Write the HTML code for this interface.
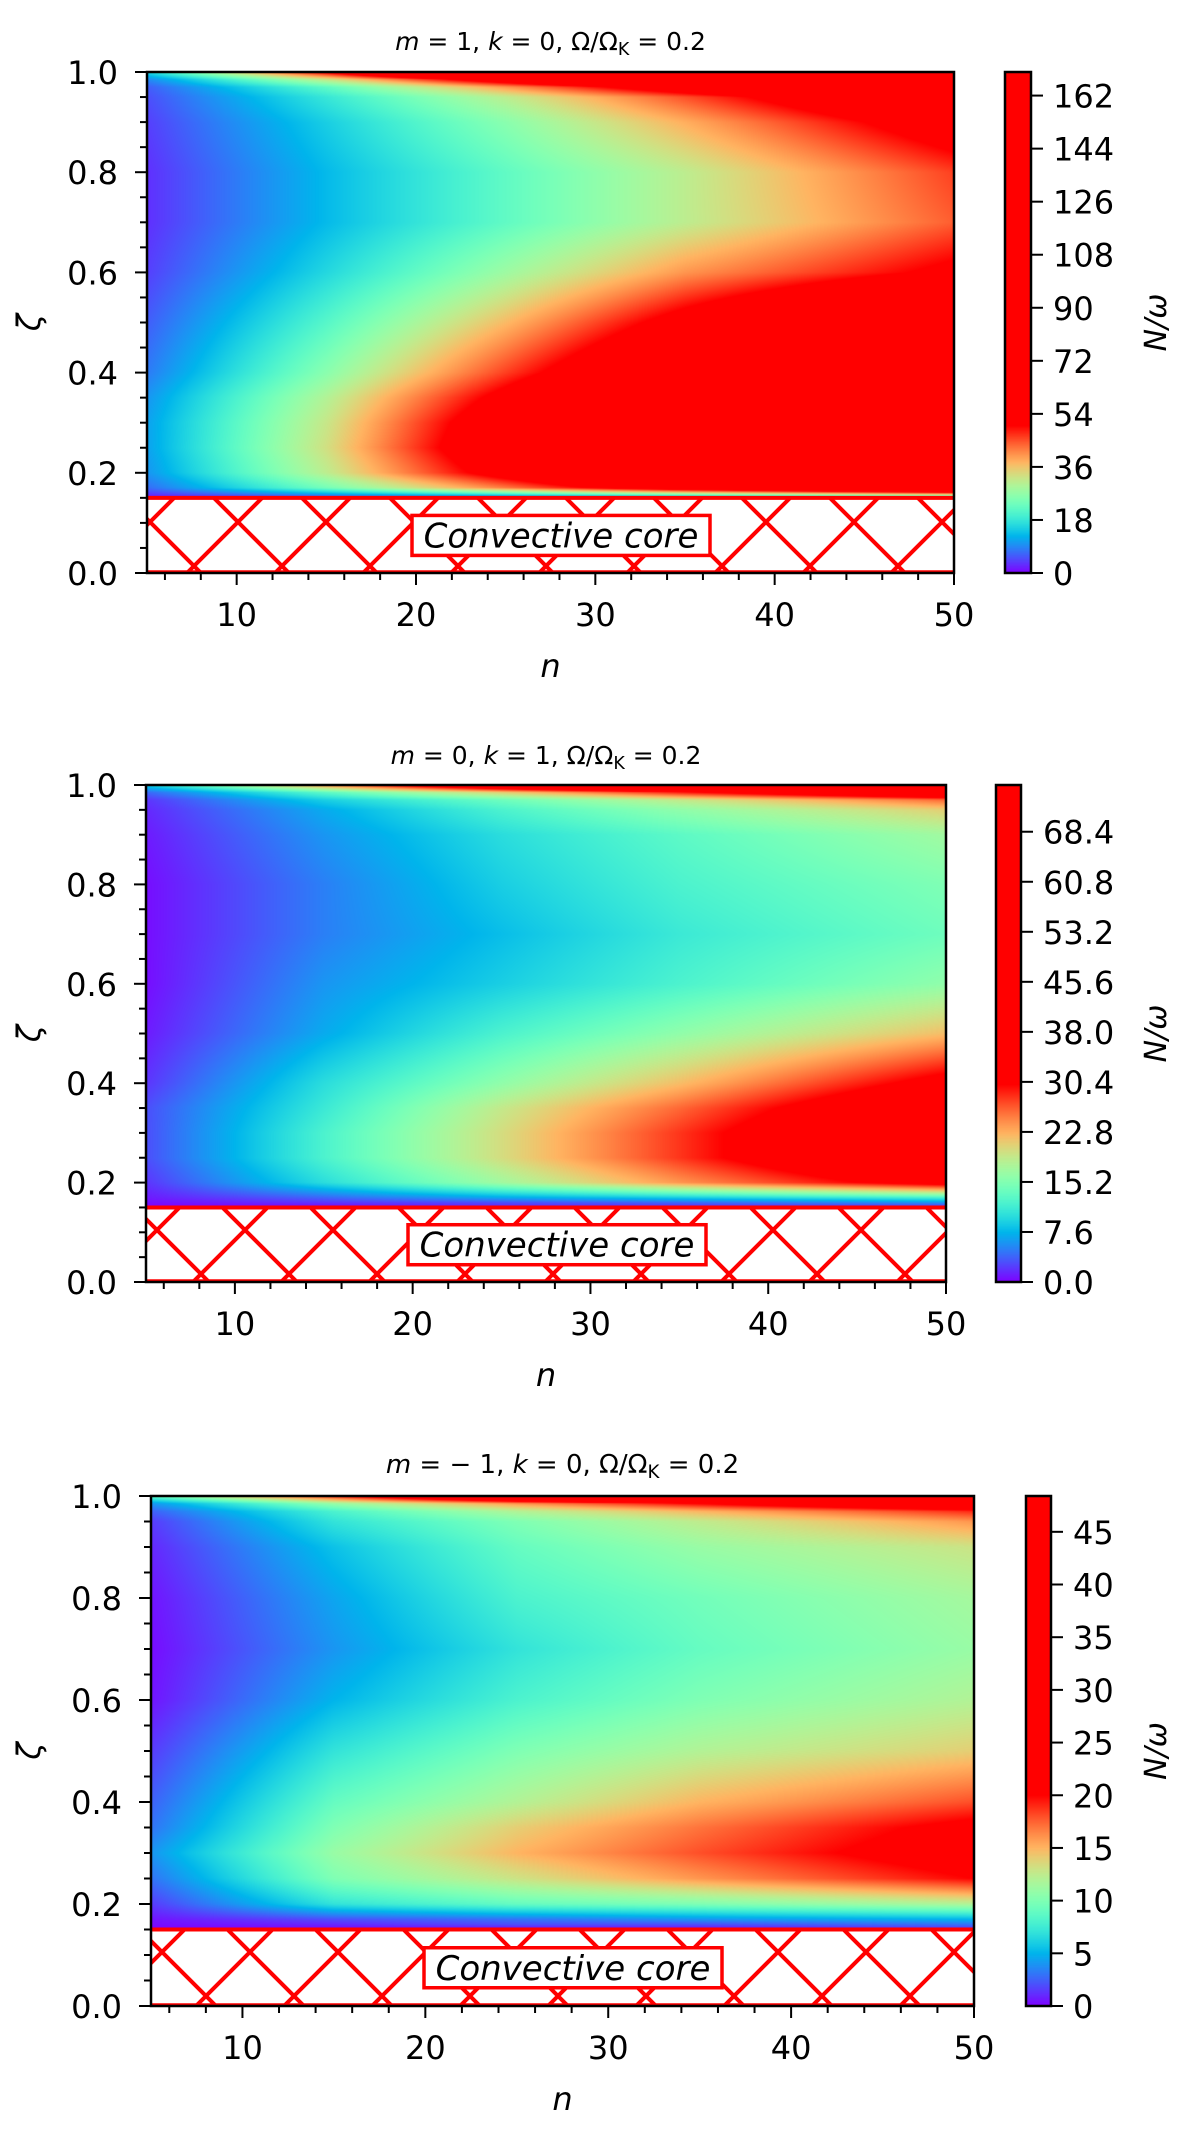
<!DOCTYPE html>
<html><head><meta charset="utf-8">
<style>
html,body{margin:0;padding:0;background:#fff;}
#wrap{position:relative;width:1200px;height:2129px;overflow:hidden;font-family:"DejaVu Sans","Liberation Sans",sans-serif;}
canvas{position:absolute;}
svg{position:absolute;left:0;top:0;}
</style></head>
<body>
<div id="wrap">
<canvas id="hm0"></canvas>
<canvas id="hm1"></canvas>
<canvas id="hm2"></canvas>
<canvas id="cb0"></canvas>
<canvas id="cb1"></canvas>
<canvas id="cb2"></canvas>
<svg id="ov" width="1200" height="2129" xmlns="http://www.w3.org/2000/svg"></svg>
</div>
<script>
// shared grid
const nCols = [5, 15, 25, 35, 50];
const zetaRows = [0.15, 0.16, 0.17, 0.2, 0.25, 0.3, 0.35, 0.4, 0.5, 0.6, 0.7, 0.8, 0.9, 0.95, 0.97, 0.985, 1.0];
// panel 1: m=1,k=0
const values1 = [
 [1,3,5,7,10],[4,14,24,34,48],[7,24,42,60,85],[10,31,55,80,115],[11,33,60,87,125],[11,32,58,84,120],
 [10,30,53,77,110],[8,26,46,66,95],[6,21,37,54,78],[4,16,28,40,52],[3,13,22,31,44],[3,13,22,31,46],
 [4,15,26,38,56],[5,18,31,45,66],[6,22,40,58,85],[9,32,58,85,125],[16,52,95,135,200]];
// panel 2: m=0,k=1
const values2 = [
 [0,0,1,1,1],[0.5,2,3,4,6],[1,4,7,9,12],[2,10,17,24,33],[3,12,20,28,40],[3,12,20,28,40],
 [3,11,19,26,37],[2,10,16,22,32],[1,7,12,16,22],[0.5,6,9,12,16],[0.5,5,8,11,14],[0.5,5,9,12,15],
 [1,6,10,13,17],[1.5,7,12,16,21],[2,9,14,19,26],[4,13,21,29,40],[9,24,40,55,75]];
// panel 3: m=-1,k=0
const values3 = [
 [0,0,0,0,1],[0.3,1,2,2,3],[0.5,2,3,4,5],[1.5,7,9,10,12],[3,10,13,16,20],[4,11,15,18,22],
 [3,10,14,17,21],[2.5,9,12,15,18],[1.5,7,10,12,14],[0.5,5,8,10,12],[0.3,4,7,9,11],[0.5,4.5,8,9.5,11.5],
 [1,5.5,9,11,13],[1.5,7,10,12.5,16],[2.5,8,12,15,19],[4,11,16,20,26],[9,19,30,40,48]];
const cbTicks1 = [0,18,36,54,72,90,108,126,144,162];
const cbTicks2 = [0.0,7.6,15.2,22.8,30.4,38.0,45.6,53.2,60.8,68.4];
const cbTicks3 = [0,5,10,15,20,25,30,35,40,45];
const xTicks = [10,20,30,40,50];
const yTicks = [0.0,0.2,0.4,0.6,0.8,1.0];

const panels = [
 {vals:values1, cmax:50, vmax:170, ticks:cbTicks1, dec:0, L:147,R:954,T:72,B:573, cbL:1005,cbR:1031, title:["m"," = 1, ","k"," = 0, Ω/Ω","K"," = 0.2"], tfs:25, ty:50, hx:18, hy:38, box:[412,710]},
 {vals:values2, cmax:30, vmax:75.5, ticks:cbTicks2, dec:1, L:146,R:946,T:785,B:1282, cbL:996,cbR:1021, title:["m"," = 0, ","k"," = 1, Ω/Ω","K"," = 0.2"], tfs:25, ty:764, hx:25, hy:42, box:[408,706]},
 {vals:values3, cmax:20, vmax:48.4, ticks:cbTicks3, dec:0, L:151,R:974,T:1496,B:2006, cbL:1026,cbR:1051, title:["m"," = − 1, ","k"," = 0, Ω/Ω","K"," = 0.2"], tfs:26, ty:1473, hx:30, hy:60, box:[424,722]}
];

function rainbow(x){
  x=Math.max(0,Math.min(1,x));
  const r=Math.min(1,Math.abs(2*x-0.5)), g=Math.sin(Math.PI*x), b=Math.cos(Math.PI*x/2);
  return [Math.round(r*255),Math.round(g*255),Math.round(Math.max(0,b)*255)];
}
function interp(vals,n,z){
  let i=0; while(i<nCols.length-2 && n>nCols[i+1]) i++;
  let j=0; while(j<zetaRows.length-2 && z>zetaRows[j+1]) j++;
  const tx=Math.max(0,Math.min(1,(n-nCols[i])/(nCols[i+1]-nCols[i])));
  const ty=Math.max(0,Math.min(1,(z-zetaRows[j])/(zetaRows[j+1]-zetaRows[j])));
  const a=vals[j][i]*(1-tx)+vals[j][i+1]*tx, b=vals[j+1][i]*(1-tx)+vals[j+1][i+1]*tx;
  return a*(1-ty)+b*ty;
}
const NS="http://www.w3.org/2000/svg";
const ov=document.getElementById('ov');
function mk(tag,attrs,parent,name){
  const e=document.createElementNS(NS,tag);
  for(const k in attrs) e.setAttribute(k,attrs[k]);
  
  
  (parent||ov).appendChild(e); return e;
}
const defs=mk('defs',{},ov,'defs');

panels.forEach((p,pi)=>{
  const W=p.R-p.L, H=p.B-p.T;
  const xS=n=>p.L+(n-5)/45*W;
  const yS=z=>p.B-z*H;
  const coreY=yS(0.15);
  const cv=document.getElementById('hm'+pi);
  const hh=Math.round(coreY-p.T);
  cv.width=W; cv.height=hh; cv.style.left=p.L+'px'; cv.style.top=p.T+'px';
  const ctx=cv.getContext('2d'); const img=ctx.createImageData(W,hh);
  for(let y=0;y<hh;y++){ const z=1-(y+0.5)/H;
    for(let x=0;x<W;x++){ const n=5+(x+0.5)/W*45;
      const c=rainbow(interp(p.vals,n,z)/p.cmax); const k=(y*W+x)*4;
      img.data[k]=c[0];img.data[k+1]=c[1];img.data[k+2]=c[2];img.data[k+3]=255; } }
  ctx.putImageData(img,0,0);
  const cb=document.getElementById('cb'+pi); const cw=p.cbR-p.cbL;
  cb.width=cw; cb.height=H; cb.style.left=p.cbL+'px'; cb.style.top=p.T+'px';
  const c2=cb.getContext('2d');
  for(let y=0;y<H;y++){ const v=(1-(y+0.5)/H)*p.vmax; const c=rainbow(v/p.cmax);
    c2.fillStyle='rgb('+c.join(',')+')'; c2.fillRect(0,y,cw,1); }
  const g=mk('g',{},ov,'panel-'+(pi+1));
  const pat=mk('pattern',{id:'h'+pi,patternUnits:'userSpaceOnUse',width:88,height:88,x:p.hx,y:p.hy},defs,'hatch-pattern');
  mk('rect',{x:0,y:0,width:88,height:88,fill:'#fff'},pat,'hatch-bg');
  mk('path',{d:'M-4,-4L92,92M-4,92L92,-4',stroke:'#ff0000','stroke-width':4,fill:'none'},pat,'hatch-lines');
  mk('rect',{x:p.L,y:coreY,width:W,height:p.B-coreY,fill:'url(#h'+pi+')'},g,'convective-core-region');
  mk('line',{x1:p.L,x2:p.R,y1:coreY,y2:coreY,stroke:'#ff0000','stroke-width':4},g,'core-boundary');
  mk('line',{x1:p.L,x2:p.R,y1:p.B-1.5,y2:p.B-1.5,stroke:'#ff0000','stroke-width':2.5},g,'core-bottom');
  const cy=(coreY+p.B)/2;
  mk('rect',{x:p.box[0],y:cy-20,width:p.box[1]-p.box[0],height:40,fill:'#fff',stroke:'#ff0000','stroke-width':3.5},g,'core-label-box');
  const lt=mk('text',{x:(p.box[0]+p.box[1])/2,y:cy+12,'text-anchor':'middle','font-size':34,'font-style':'italic'},g,'core-label');
  lt.textContent='Convective core';
  mk('rect',{x:p.L,y:p.T,width:W,height:H,fill:'none',stroke:'#000','stroke-width':2.5},g,'plot-frame');
  mk('rect',{x:p.cbL,y:p.T,width:cw,height:H,fill:'none',stroke:'#000','stroke-width':2.5},g,'colorbar-frame');
  for(let i=0;i<=20;i++){ const z=i*0.05; const maj=(i%4===0); const y=yS(z);
    mk('line',{x1:p.L-(maj?12:7),x2:p.L,y1:y,y2:y,stroke:'#000','stroke-width':2},g,maj?'y-major-tick':'y-minor-tick'); }
  yTicks.forEach(v=>{ const t=mk('text',{x:p.L-29,y:yS(v)+12,'text-anchor':'end','font-size':32},g,'y-tick-label'); t.textContent=v.toFixed(1); });
  for(let n=6;n<=50;n+=2){ const maj=(n%10===0); const x=xS(n);
    mk('line',{x1:x,x2:x,y1:p.B,y2:p.B+(maj?12:7),stroke:'#000','stroke-width':2},g,maj?'x-major-tick':'x-minor-tick'); }
  xTicks.forEach(v=>{ const t=mk('text',{x:xS(v),y:p.B+53,'text-anchor':'middle','font-size':32},g,'x-tick-label'); t.textContent=v; });
  p.ticks.forEach(v=>{ const y=p.B-v/p.vmax*H;
    mk('line',{x1:p.cbR,x2:p.cbR+12,y1:y,y2:y,stroke:'#000','stroke-width':2},g,'colorbar-tick');
    const t=mk('text',{x:p.cbR+22,y:y+12,'font-size':32},g,'colorbar-tick-label'); t.textContent=v.toFixed(p.dec); });
  const yl=mk('text',{x:0,y:0,'font-size':32,'font-style':'italic','text-anchor':'middle',transform:'translate(40,'+(p.T+H/2)+') rotate(-90)'},g,'y-axis-title'); yl.textContent='ζ';
  const xl=mk('text',{x:(p.L+p.R)/2,y:p.B+104,'font-size':32,'font-style':'italic','text-anchor':'middle'},g,'x-axis-title'); xl.textContent='n';
  const cl=mk('text',{x:0,y:0,'font-size':30,'font-style':'italic','text-anchor':'middle',transform:'translate(1166,'+(p.T+H/2)+') rotate(-90)'},g,'colorbar-title'); cl.textContent='N/ω';
  const tt=mk('text',{x:(p.L+p.R)/2,y:p.ty,'font-size':p.tfs,'text-anchor':'middle'},g,'panel-title');
  p.title.forEach((s,i)=>{ const ts=document.createElementNS(NS,'tspan');
    
    
    if(i===0||i===2) ts.setAttribute('font-style','italic');
    if(i===4){ ts.setAttribute('font-size',p.tfs*0.7); ts.setAttribute('dy',5); }
    if(i===5){ ts.setAttribute('dy',-5); }
    ts.textContent=s; tt.appendChild(ts); });
});
</script>
</body></html>
